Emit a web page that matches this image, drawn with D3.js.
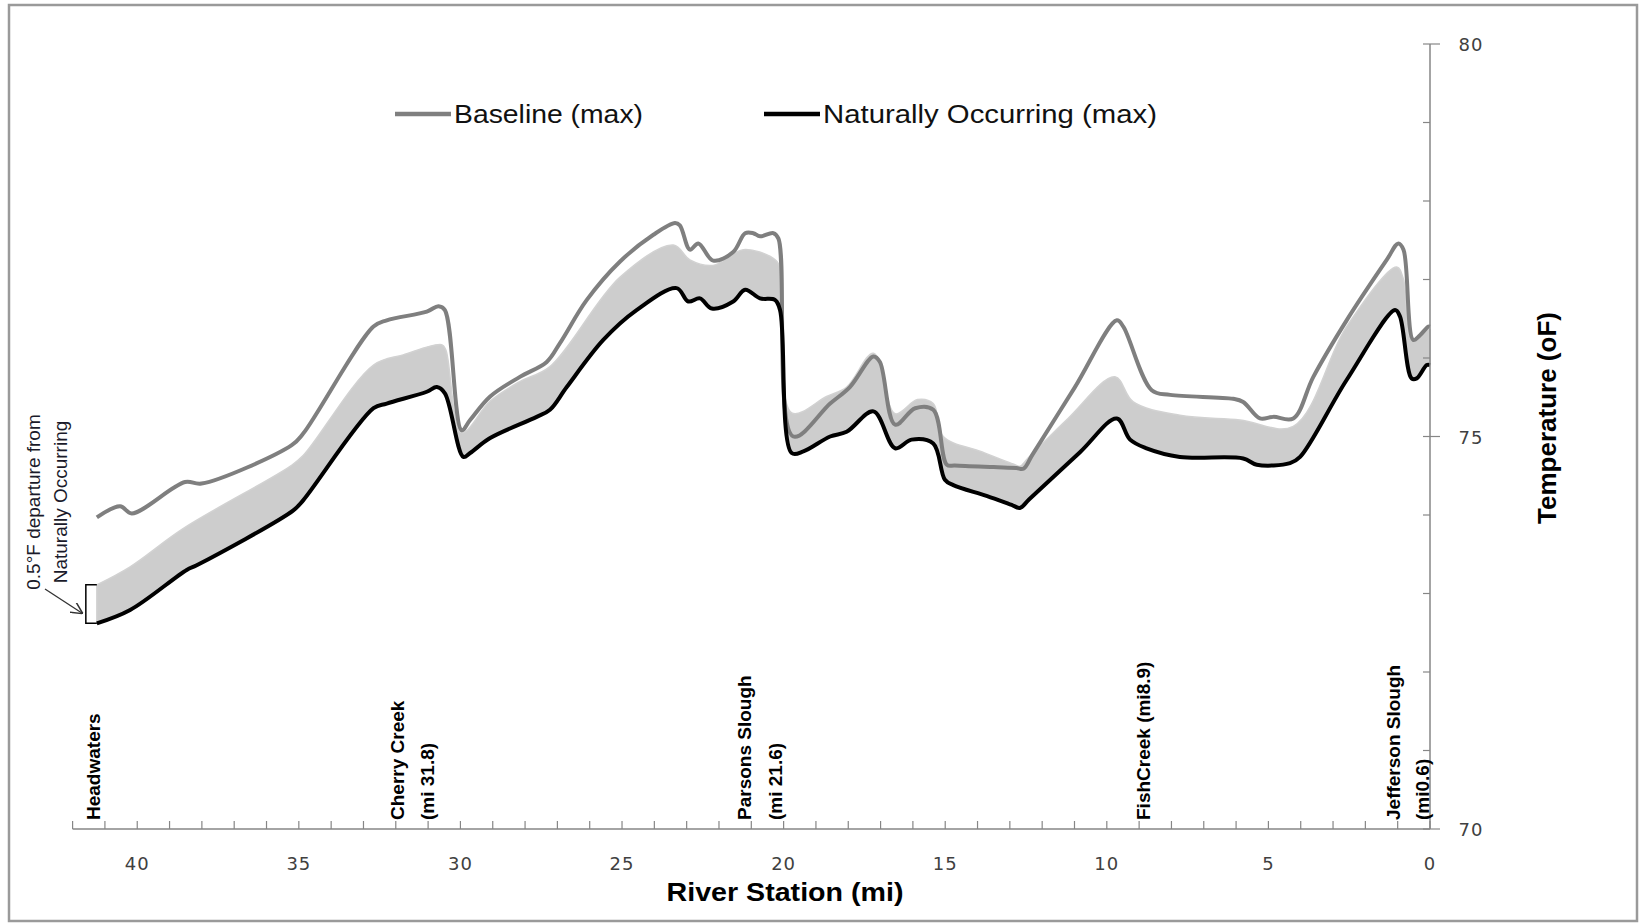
<!DOCTYPE html>
<html>
<head>
<meta charset="utf-8">
<script src="https://cdn.jsdelivr.net/npm/d3@7"></script>
<style>
  body { margin: 0; background: #fff; }
  svg { display: block; }
</style>
</head>
<body>
<div id="chart"></div>
<script>
// river mile (headwaters -> mouth) and max temperature (F)
var baselineMile = [41.25, 40.53, 40.17, 38.52, 38.01, 35.22, 34.86, 32.69, 32.28, 31.04, 30.68, 30.48, 29.96, 29.70, 29.08, 28.16, 27.33, 26.92, 26.09, 25.06, 24.03, 23.36, 23.21, 22.90, 22.64, 22.18, 21.56, 21.19, 20.94, 20.73, 20.32, 20.16, 19.70, 18.56, 17.95, 17.22, 17.02, 16.55, 15.93, 15.37, 14.95, 14.70, 13.50, 12.80, 12.58, 12.30, 11.00, 9.69, 9.49, 8.61, 8.04, 6.09, 5.78, 5.26, 4.85, 4.23, 3.61, 2.58, 1.34, 0.98, 0.82, 0.52, 0.31, 0.05, 0.00];
var baselineTemp = [73.97, 74.11, 74.02, 74.42, 74.40, 74.89, 75.04, 76.40, 76.48, 76.59, 76.66, 76.61, 75.08, 75.21, 75.51, 75.76, 75.95, 76.19, 76.74, 77.23, 77.57, 77.72, 77.69, 77.38, 77.46, 77.24, 77.35, 77.59, 77.59, 77.55, 77.59, 77.52, 75.00, 75.42, 75.63, 76.02, 75.95, 75.15, 75.36, 75.34, 74.64, 74.63, 74.61, 74.60, 74.59, 74.77, 75.62, 76.48, 76.40, 75.59, 75.53, 75.48, 75.44, 75.23, 75.25, 75.23, 75.76, 76.48, 77.25, 77.46, 77.38, 76.23, 76.29, 76.40, 76.40];

var naturalMile = [41.25, 40.22, 38.47, 38.16, 35.17, 34.86, 32.69, 32.28, 31.04, 30.73, 30.48, 29.91, 29.70, 29.08, 27.64, 27.23, 26.71, 25.58, 24.55, 23.31, 22.95, 22.59, 22.22, 21.56, 21.19, 20.73, 20.27, 20.11, 19.75, 19.39, 18.56, 18.05, 17.22, 16.55, 16.04, 15.37, 15.01, 14.75, 13.70, 12.90, 12.69, 12.40, 10.83, 9.69, 9.28, 8.77, 7.74, 5.78, 5.36, 4.33, 4.02, 2.58, 1.08, 0.93, 0.57, 0.41, 0.10, 0.00];
var naturalTemp = [72.62, 72.79, 73.30, 73.36, 74.06, 74.19, 75.36, 75.42, 75.57, 75.63, 75.55, 74.74, 74.79, 74.98, 75.25, 75.34, 75.63, 76.23, 76.61, 76.89, 76.72, 76.76, 76.63, 76.72, 76.87, 76.76, 76.74, 76.61, 74.79, 74.81, 75.00, 75.06, 75.32, 74.85, 74.96, 74.91, 74.45, 74.38, 74.24, 74.12, 74.09, 74.20, 74.80, 75.23, 74.96, 74.85, 74.74, 74.72, 74.64, 74.66, 74.74, 75.72, 76.61, 76.53, 75.74, 75.74, 75.91, 75.91];

// upper edge of the 0.5 F departure envelope (lower edge = naturally occurring)
var envelopeMile = [41.25, 40.22, 38.57, 35.27, 34.86, 32.69, 31.77, 30.58, 30.45, 29.96, 29.08, 28.16, 27.23, 25.06, 23.41, 22.90, 22.18, 21.25, 20.32, 20.11, 19.75, 18.67, 18.05, 17.22, 16.55, 15.86, 15.37, 15.06, 13.90, 12.90, 12.69, 12.45, 11.20, 9.75, 9.18, 7.74, 5.88, 4.23, 2.58, 1.03, 0.82, 0.57, 0.05, 0.00];
var envelopeTemp = [73.11, 73.34, 73.83, 74.62, 74.76, 75.91, 76.04, 76.17, 76.10, 75.05, 75.45, 75.70, 75.89, 77.03, 77.44, 77.25, 77.18, 77.38, 77.27, 77.15, 75.30, 75.51, 75.63, 76.06, 75.29, 75.47, 75.42, 75.00, 74.81, 74.65, 74.62, 74.72, 75.23, 75.76, 75.44, 75.27, 75.21, 75.13, 76.40, 77.16, 77.00, 76.23, 76.36, 76.36];

var seriesNames = ["Baseline (max)", "Naturally Occurring (max)"];
var xTicks = [40, 35, 30, 25, 20, 15, 10, 5, 0];
var yTicks = [70, 75, 80];

var landmarkNames = [["Headwaters"], ["Cherry Creek", "(mi 31.8)"], ["Parsons Slough", "(mi 21.6)"], ["FishCreek (mi8.9)"], ["Jefferson Slough", "(mi0.6)"]];
var landmarkMile = [[41.38], [31.95, 31.04], [21.23, 20.28], [8.87], [1.15, 0.24]];

var W = 1652, H = 924;
var sans = "'Liberation Sans', Arial, sans-serif";

var svg = d3.select("#chart").append("svg")
  .attr("width", W)
  .attr("height", H);

// frame
svg.append("rect")
  .attr("x", 9).attr("y", 5)
  .attr("width", 1628).attr("height", 916)
  .attr("fill", "none")
  .attr("stroke", "#9a9a9a")
  .attr("stroke-width", 2.5);

var x = d3.scaleLinear().domain([42, 0]).range([72.6, 1430]);
var y = d3.scaleLinear().domain([70, 80]).range([829, 44]);

function pts(m, t) { return m.map(function(d, i) { return [d, t[i]]; }); }
var baseline = pts(baselineMile, baselineTemp);
var natural = pts(naturalMile, naturalTemp);
var envelope = pts(envelopeMile, envelopeTemp);

var line = d3.line()
  .x(function(d) { return x(d[0]); })
  .y(function(d) { return y(d[1]); })
  .curve(d3.curveCatmullRom.alpha(0.5));

// envelope band: top edge forward, natural line back
var bandPath = line(envelope) + "L" + line(natural.slice().reverse()).slice(1) + "Z";
svg.append("path")
  .attr("d", bandPath)
  .attr("fill", "#cdcdcd")
  .attr("stroke", "#d2d2d2")
  .attr("stroke-width", 1.5)
  .attr("stroke-linejoin", "round");

svg.append("path")
  .attr("d", line(baseline))
  .attr("fill", "none")
  .attr("stroke", "#7f7f7f")
  .attr("stroke-width", 4)
  .attr("stroke-linejoin", "round");

svg.append("path")
  .attr("d", line(natural))
  .attr("fill", "none")
  .attr("stroke", "#000")
  .attr("stroke-width", 4)
  .attr("stroke-linejoin", "round");

// x axis
var xAxis = svg.append("g").attr("transform", "translate(0,829)");
xAxis.append("line")
  .attr("x1", x(42)).attr("x2", x(0))
  .attr("stroke", "#868686").attr("stroke-width", 1.5);
xAxis.selectAll(".xt").data(d3.range(0, 43)).enter()
  .append("line")
  .attr("x1", function(d) { return x(d); }).attr("x2", function(d) { return x(d); })
  .attr("y1", 0).attr("y2", -8)
  .attr("stroke", "#868686").attr("stroke-width", 1.2);
xAxis.selectAll(".xl").data(xTicks).enter()
  .append("text")
  .attr("x", function(d) { return x(d); })
  .attr("y", 41)
  .attr("text-anchor", "middle")
  .attr("font-family", "'DejaVu Sans', sans-serif")
  .attr("font-size", "18px")
  .attr("letter-spacing", "1px")
  .attr("fill", "#404040")
  .text(function(d) { return d; });

svg.append("text")
  .attr("x", 785).attr("y", 901)
  .attr("text-anchor", "middle")
  .attr("font-family", sans)
  .attr("font-weight", "bold")
  .attr("font-size", "26px")
  .attr("textLength", 237)
  .attr("lengthAdjust", "spacingAndGlyphs")
  .text("River Station (mi)");

// y axis (right side)
var yAxis = svg.append("g").attr("transform", "translate(" + x(0) + ",0)");
yAxis.append("line")
  .attr("y1", y(70)).attr("y2", y(80))
  .attr("stroke", "#868686").attr("stroke-width", 1.5);
yAxis.selectAll(".yt").data(d3.range(70, 81)).enter()
  .append("line")
  .attr("x1", -7)
  .attr("x2", function(d) { return d % 5 == 0 ? 10 : 0; })
  .attr("y1", function(d) { return y(d); }).attr("y2", function(d) { return y(d); })
  .attr("stroke", "#868686").attr("stroke-width", 1.2);
yAxis.selectAll(".yl").data(yTicks).enter()
  .append("text")
  .attr("x", 41)
  .attr("y", function(d) { return y(d) + 7; })
  .attr("text-anchor", "middle")
  .attr("font-family", "'DejaVu Sans', sans-serif")
  .attr("font-size", "18px")
  .attr("letter-spacing", "1px")
  .attr("fill", "#404040")
  .text(function(d) { return d; });

svg.append("text")
  .attr("transform", "translate(1556,418) rotate(-90)")
  .attr("text-anchor", "middle")
  .attr("font-family", sans)
  .attr("font-weight", "bold")
  .attr("font-size", "26px")
  .text("Temperature (oF)");

// legend
var legendX = [395, 764];
var legendW = [189, 334];
var legend = svg.selectAll(".lg").data(seriesNames).enter().append("g");
legend.append("line")
  .attr("x1", function(d, i) { return legendX[i]; })
  .attr("x2", function(d, i) { return legendX[i] + 56; })
  .attr("y1", 114).attr("y2", 114)
  .attr("stroke", function(d, i) { return i == 0 ? "#7f7f7f" : "#000"; })
  .attr("stroke-width", 4.5);
legend.append("text")
  .attr("x", function(d, i) { return legendX[i] + 59; })
  .attr("y", 123)
  .attr("font-family", sans)
  .attr("font-size", "26px")
  .attr("fill", "#111")
  .attr("textLength", function(d, i) { return legendW[i]; })
  .attr("lengthAdjust", "spacingAndGlyphs")
  .text(function(d) { return d; });

// landmark labels along the bottom
landmarkNames.forEach(function(lines, k) {
  lines.forEach(function(t, j) {
    svg.append("text")
      .attr("transform", "translate(" + (x(landmarkMile[k][j]) + 7) + ",820) rotate(-90)")
      .attr("font-family", sans)
      .attr("font-weight", "bold")
      .attr("font-size", "19px")
      .attr("fill", "#000")
      .text(t);
  });
});

// 0.5 F departure bracket and note
var x0 = x(naturalMile[0]), yTop = y(envelopeTemp[0]), yBot = y(naturalTemp[0]);
svg.append("path")
  .attr("d", "M" + x0 + "," + yTop + "H" + (x0 - 11) + "V" + yBot + "H" + x0)
  .attr("fill", "none")
  .attr("stroke", "#000")
  .attr("stroke-width", 1.5);

svg.append("defs").append("marker")
  .attr("id", "arr")
  .attr("viewBox", "0 0 10 10")
  .attr("refX", 9).attr("refY", 5)
  .attr("markerWidth", 9).attr("markerHeight", 9)
  .attr("orient", "auto")
  .append("path")
  .attr("d", "M0,0 L10,5 L0,10")
  .attr("fill", "none")
  .attr("stroke", "#333")
  .attr("stroke-width", 1.3);

svg.append("line")
  .attr("x1", 45).attr("y1", 589)
  .attr("x2", x0 - 15).attr("y2", 613)
  .attr("stroke", "#333")
  .attr("stroke-width", 1.3)
  .attr("marker-end", "url(#arr)");

var note = ["0.5°F departure from", "Naturally Occurring"];
note.forEach(function(t, i) {
  svg.append("text")
    .attr("transform", "translate(" + (40 + i * 27) + ",502) rotate(-90)")
    .attr("text-anchor", "middle")
    .attr("font-family", sans)
    .attr("font-size", "19px")
    .attr("fill", "#1a1a2a")
    .text(t);
});
</script>
</body>
</html>
